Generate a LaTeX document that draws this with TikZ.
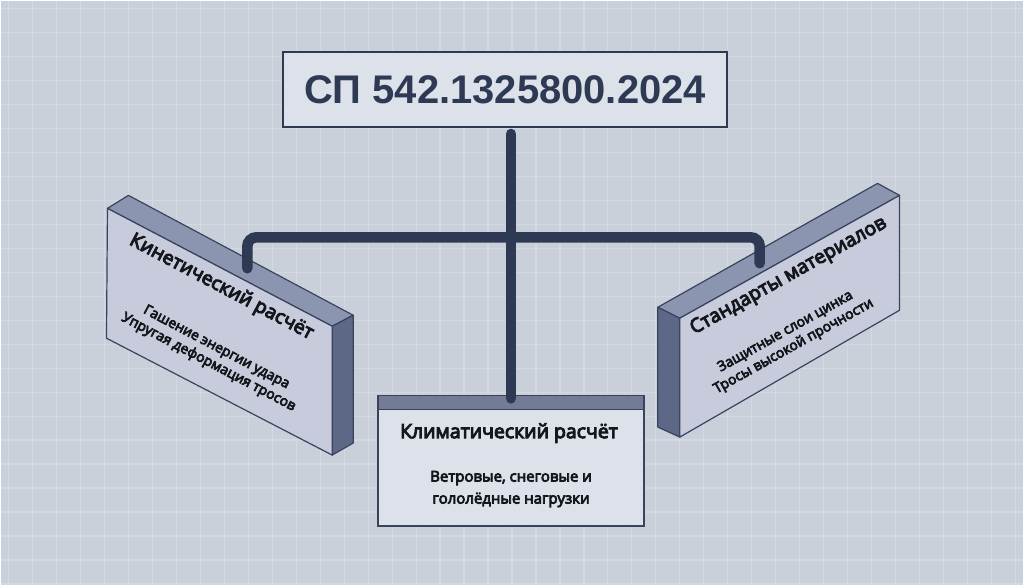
\documentclass[tikz,border=0pt]{standalone}
\usepackage{fontspec}
\setmainfont{Open Sans}[AutoFakeBold=5]
\newfontfamily\titlefont{Liberation Sans}
\definecolor{bg}{HTML}{C9D0DA}
\definecolor{gridc}{HTML}{D3D9E2}
\definecolor{navy}{HTML}{2E3A54}
\definecolor{boxfill}{HTML}{DDE1EA}
\definecolor{frontc}{HTML}{C8CBDC}
\definecolor{topc}{HTML}{8C95AF}
\definecolor{sidec}{HTML}{5C6886}
\definecolor{edgec}{HTML}{38435E}
\definecolor{bandc}{HTML}{737C94}
\definecolor{ink}{HTML}{15171C}
\begin{document}
\begin{tikzpicture}[x=1pt,y=-1pt,
  conn/.style={draw=navy,line width=10.5pt,line cap=round},
  face/.style={draw=edgec,line width=1.2pt,line join=round},
  slabtitle/.style={text=ink,font=\bfseries\fontsize{19.5}{22}\selectfont,inner sep=0pt},
  slabbody/.style={text=ink,align=center,font=\bfseries\fontsize{14}{17}\selectfont,inner sep=0pt}]
\fill[bg] (0,0) rectangle (1024,585);
\foreach \i in {8,32,...,1020} \draw[gridc,line width=1.2pt] (\i,0) -- (\i,585);
\foreach \j in {8,32,...,585} \draw[gridc,line width=1.2pt] (0,\j) -- (1024,\j);
\useasboundingbox (0,0) rectangle (1024,585);
% left slab
\draw[face,fill=topc] (107,208) -- (128,195) -- (353,315) -- (332,326) -- cycle;
\draw[face,fill=sidec] (332,326) -- (353,315) -- (353,443) -- (332,455) -- cycle;
\draw[face,fill=frontc] (107,208) -- (332,326) -- (332,455) -- (106,338) -- cycle;
\node[slabtitle,rotate=-27.8] (kt) at (221,287) {Кинетический расчёт};
\node[slabbody,rotate=-27.8] (kb) at (212,355) {Гашение энергии удара\\Упругая деформация тросов};
% right slab
\draw[face,fill=topc] (658,307) -- (680,318) -- (900,195) -- (878,183) -- cycle;
\draw[face,fill=sidec] (658,307) -- (680,318) -- (680,437) -- (658,427) -- cycle;
\draw[face,fill=frontc] (680,318) -- (900,195) -- (900,310) -- (680,437) -- cycle;
\node[slabtitle,rotate=29.2] (st) at (789,276) {Стандарты материалов};
\node[slabbody,rotate=29.2] (sb) at (790,339) {Защитные слои цинка\\Тросы высокой прочности};
% top box
\node[draw=navy,line width=2pt,fill=boxfill,minimum width=444pt,minimum height=76pt,inner sep=0pt,
  text=navy,font=\titlefont\bfseries\fontsize{40}{44}\selectfont] (top) at (505,89) {СП 542.1325800.2024};
% center box
\node[draw=edgec,line width=1.5pt,fill=boxfill,minimum width=265pt,minimum height=130pt,inner sep=0pt] (clim) at (511,461) {};
\fill[bandc] (clim.north west) rectangle ([yshift=-14pt]clim.north east);
\draw[edgec,line width=1.5pt] ([yshift=-14pt]clim.north west) -- ([yshift=-14pt]clim.north east);
\draw[edgec,line width=1.5pt] (clim.north west) rectangle (clim.south east);
\node[text=ink,font=\bfseries\fontsize{19.5}{22}\selectfont] (ct) at (509,433) {Климатический расчёт};
\node[text=ink,align=center,font=\bfseries\fontsize{15}{22}\selectfont] (cb) at (511,489) {Ветровые, снеговые и\\гололёдные нагрузки};
% connectors
\coordinate (lk) at (247,268);
\coordinate (rk) at (760,263);
\coordinate (bar) at (0,237);
\draw[conn,rounded corners=9pt] (lk) -- (lk |- bar) -- (rk |- bar) -- (rk);
\draw[conn] ([yshift=-5.5pt]top.south -| clim.north) -- ([yshift=-3pt]clim.north);
\end{tikzpicture}
\end{document}
